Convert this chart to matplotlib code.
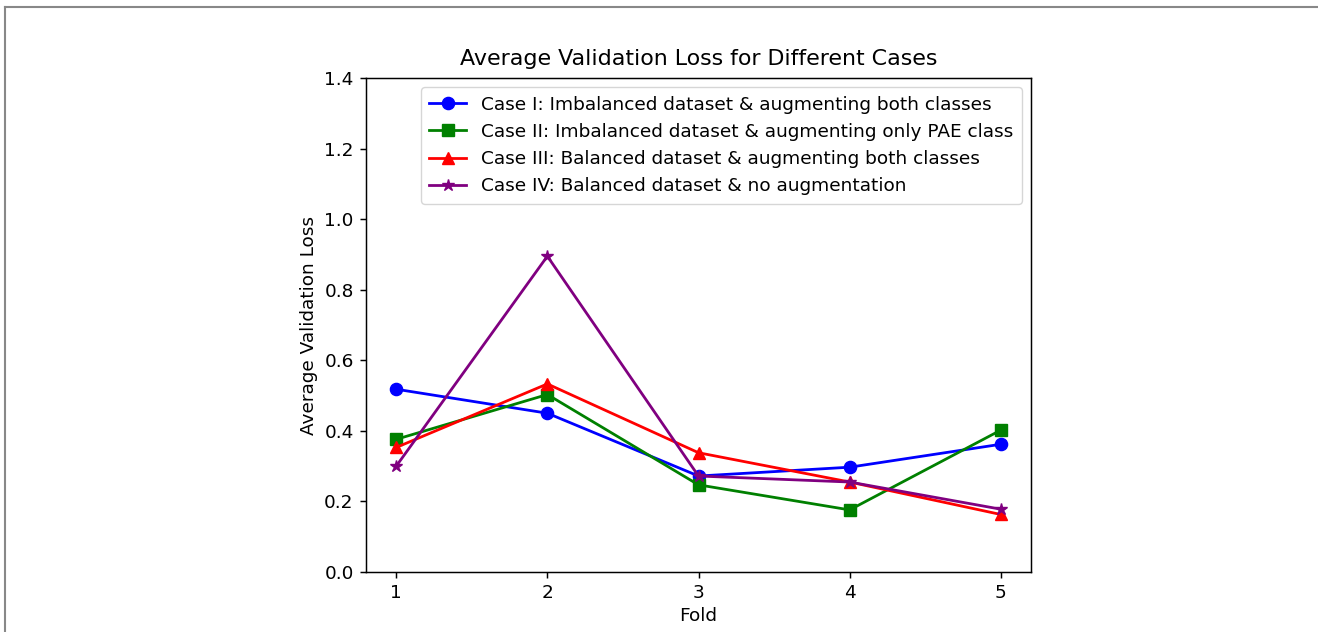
import matplotlib
matplotlib.use("Agg")
import matplotlib.pyplot as plt
from matplotlib.lines import Line2D

folds = [1, 2, 3, 4, 5]
case1 = [0.518, 0.450, 0.272, 0.297, 0.362]
case2 = [0.376, 0.503, 0.247, 0.176, 0.402]
case3 = [0.353, 0.533, 0.338, 0.255, 0.163]
case4 = [0.300, 0.895, 0.272, 0.255, 0.178]
labels = [
    "Case I: Imbalanced dataset & augmenting both classes",
    "Case II: Imbalanced dataset & augmenting only PAE class",
    "Case III: Balanced dataset & augmenting both classes",
    "Case IV: Balanced dataset & no augmentation",
]

W, H = 1318, 632
fig = plt.figure(figsize=(W / 100, H / 100), dpi=100)
ax = fig.add_axes([366 / W, 1 - 572 / H, (1031 - 366) / W, (572 - 78) / H])

s = 1.33
ms = 6.6 * s
ax.plot(folds, case1, color="blue", marker="o", markersize=ms, linewidth=1.5 * s, label=labels[0])
ax.plot(folds, case2, color="green", marker="s", markersize=ms, linewidth=1.5 * s, label=labels[1])
ax.plot(folds, case3, color="red", marker="^", markersize=ms, linewidth=1.5 * s, label=labels[2])
ax.plot(folds, case4, color="purple", marker="*", markersize=ms, linewidth=1.5 * s, label=labels[3])

ax.set_ylim(0, 1.4)
ax.set_xticks(folds)
ax.tick_params(labelsize=10 * s, length=3.5 * s, width=0.8 * s, pad=3.5 * s * 0.9)
for sp in ax.spines.values():
    sp.set_linewidth(0.8 * s)
ax.set_title("Average Validation Loss for Different Cases", fontsize=12 * s, pad=6 * s * 0.9 + 2)
ax.set_xlabel("Fold", fontsize=10 * s, labelpad=4 * s * 0.6)
ax.set_ylabel("Average Validation Loss", fontsize=10 * s, labelpad=4 * s * 0.8)
ax.legend(loc="upper right", fontsize=10 * s, handlelength=2.0, borderpad=0.45,
          labelspacing=0.5, handletextpad=0.8, borderaxespad=0.5)

# Frame of the screenshot
fig.add_artist(Line2D([5 / W, 1.0], [1 - 7 / H, 1 - 7 / H], transform=fig.transFigure,
                      color="#888888", linewidth=1.5))
fig.add_artist(Line2D([5 / W, 5 / W], [0, 1 - 7 / H], transform=fig.transFigure,
                      color="#888888", linewidth=1.5))

fig.savefig("out.png", dpi=100)
